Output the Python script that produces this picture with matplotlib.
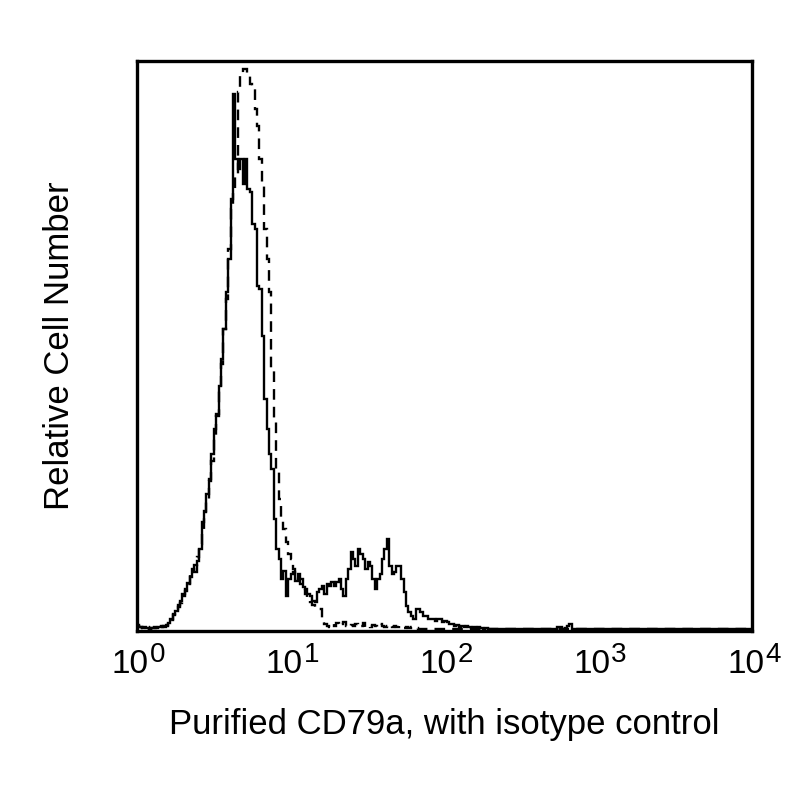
import numpy as np
import matplotlib
matplotlib.use("Agg")
import matplotlib.pyplot as plt
from matplotlib import font_manager

plt.rcParams['font.family'] = ['Liberation Sans', 'DejaVu Sans']

# narrow face for the decade labels if it is there
try:
    font_manager.findfont('Liberation Sans Narrow', fallback_to_default=False)
    tick_family = ['Liberation Sans Narrow', 'Liberation Sans']
except Exception:
    tick_family = ['Liberation Sans']

# 256 channels over 4 decades, counts
cd79a = [4, 2, 1, 2, 1, 0, 1, 2, 1, 2, 3, 2,
         4, 6, 10, 14, 18, 22, 28, 35, 40, 46, 52, 60,
         57, 68, 80, 107, 118, 135, 148, 175, 200, 213, 243, 270,
         300, 337, 370, 430, 535, 470, 460, 470, 445, 470, 440, 437,
         405, 400, 343, 340, 293, 230, 200, 175, 160, 110, 80, 70,
         50, 58, 33, 50, 55, 57, 48, 55, 50, 42, 40, 35,
         33, 28, 27, 37, 40, 43, 35, 45, 43, 47, 43, 47,
         50, 40, 33, 50, 60, 77, 70, 63, 80, 75, 70, 60,
         67, 63, 50, 40, 50, 55, 70, 80, 90, 63, 55, 57,
         63, 63, 50, 37, 23, 17, 13, 10, 20, 20, 17, 13,
         13, 10, 10, 10, 8, 10, 10, 7, 8, 7, 5, 5,
         3, 4, 2, 3, 2, 3, 2, 1, 2, 0, 2, 1,
         0, 1, 0, 0, 0, 0, 0, 0, 0, 0, 0, 0,
         0, 0, 0, 0, 0, 0, 0, 0, 0, 0, 0, 0,
         0, 0, 0, 0, 0, 0, 0, 2, 2, 0, 1, 3,
         5, 0, 0, 0, 0, 0, 0, 0, 0, 0, 0, 0,
         0, 0, 0, 0, 0, 0, 0, 0, 0, 0, 0, 0,
         0, 0, 0, 0, 0, 0, 0, 0, 0, 0, 0, 0,
         0, 0, 0, 0, 0, 0, 0, 0, 0, 0, 0, 0,
         0, 0, 0, 0, 0, 0, 0, 0, 0, 0, 0, 0,
         0, 0, 0, 0, 0, 0, 0, 0, 0, 0, 0, 0,
         0, 0, 0, 0]

isotype = [3, 2, 1, 1, 2, 0, 1, 1, 2, 1, 2, 3,
           3, 5, 9, 15, 20, 24, 26, 33, 38, 45, 55, 58,
           64, 72, 85, 100, 112, 130, 150, 168, 190, 215, 240, 265,
           300, 330, 380, 420, 440, 455, 537, 553, 560, 560, 555, 545,
           540, 520, 503, 470, 443, 400, 370, 337, 260, 207, 157, 130,
           110, 100, 87, 75, 70, 60, 55, 50, 45, 40, 35, 30,
           27, 24, 22, 20, 20, 8, 5, 3, 2, 5, 3, 6,
           3, 5, 7, 3, 2, 4, 3, 5, 2, 3, 6, 2,
           3, 2, 4, 3, 2, 5, 3, 2, 3, 4, 2, 3,
           2, 3, 2, 1, 2, 1, 2, 1, 1, 0, 0, 0,
           0, 0, 0, 0, 0, 0, 0, 0, 0, 0, 0, 0,
           0, 0, 0, 0, 0, 0, 0, 0, 0, 0, 0, 0,
           0, 0, 0, 0, 0, 0, 0, 0, 0, 0, 0, 0,
           0, 0, 0, 0, 0, 0, 0, 0, 0, 0, 0, 0,
           0, 0, 0, 0, 0, 0, 0, 0, 0, 0, 0, 0,
           0, 0, 0, 0, 0, 0, 0, 0, 0, 0, 0, 0,
           0, 0, 0, 0, 0, 0, 0, 0, 0, 0, 0, 0,
           0, 0, 0, 0, 0, 0, 0, 0, 0, 0, 0, 0,
           0, 0, 0, 0, 0, 0, 0, 0, 0, 0, 0, 0,
           0, 0, 0, 0, 0, 0, 0, 0, 0, 0, 0, 0,
           0, 0, 0, 0, 0, 0, 0, 0, 0, 0, 0, 0,
           0, 0, 0, 0]

exponents = [0, 1, 2, 3, 4]

edges = np.logspace(0, 4, len(cd79a) + 1)
decades = [10.0 ** e for e in exponents]

fig = plt.figure(figsize=(8, 8), dpi=100)
ax = fig.add_axes([0.171, 0.211, 0.769, 0.713])

ax.stairs(isotype, edges, color='black', linewidth=1.7, linestyle=(0, (4.5, 3)))
ax.stairs(cd79a, edges, color='black', linewidth=1.7)

ax.set_xscale('log')
ax.set_xlim(1, 1e4)
ax.set_ylim(-2, 568)
ax.set_xticks(decades, labels=[''] * len(decades))
ax.minorticks_off()
ax.tick_params(axis='x', length=0)
ax.set_yticks([])
for s in ax.spines.values():
    s.set_linewidth(2.4)

# "10" with a near full-size exponent, like the original
px = 0.72
for t, e in zip(decades, exponents):
    ax.annotate('10', xy=(t, 0), xycoords=ax.get_xaxis_transform(),
                xytext=(12 * px, -42 * px), textcoords='offset points',
                ha='right', va='baseline', fontsize=24, family=tick_family)
    ax.annotate(str(e), xy=(t, 0), xycoords=ax.get_xaxis_transform(),
                xytext=(13 * px, -31 * px), textcoords='offset points',
                ha='left', va='baseline', fontsize=20, family=tick_family)

ax.set_xlabel('Purified CD79a, with isotype control', fontsize=25, labelpad=52)
ax.set_ylabel('Relative Cell Number', fontsize=25, labelpad=44)

fig.savefig('out.png', dpi=100)
